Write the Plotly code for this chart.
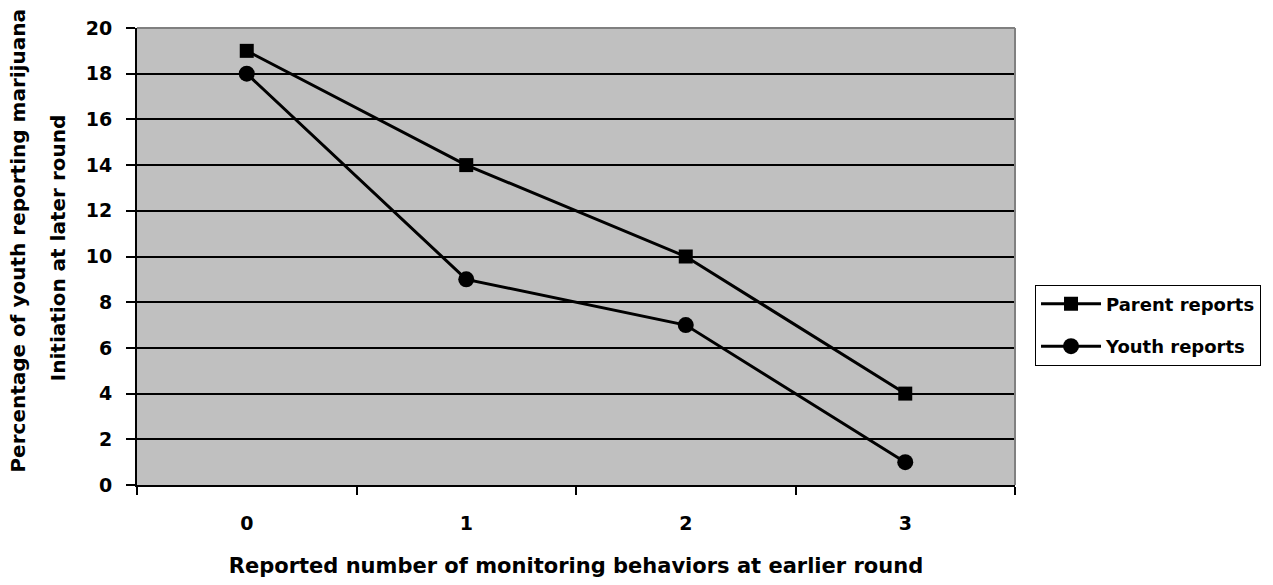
import plotly.graph_objects as go

# Monitoring behaviours (category labels) and initiation percentages
categories = ["0", "1", "2", "3"]
parent_reports = [19, 14, 10, 4]
youth_reports = [18, 9, 7, 1]
y_ticks = [0, 2, 4, 6, 8, 10, 12, 14, 16, 18, 20]

FONT = "Liberation Sans"
WIDE = "DejaVu Sans"

fig = go.Figure()
fig.add_trace(go.Scatter(
    x=categories, y=parent_reports, name="Parent reports", mode="lines+markers",
    legendgroup="parent",
    line=dict(color="black", width=3),
    marker=dict(symbol="square", size=14, color="black"),
))
fig.add_trace(go.Scatter(
    x=categories, y=youth_reports, name="Youth reports", mode="lines+markers",
    legendgroup="youth",
    line=dict(color="black", width=3),
    marker=dict(symbol="circle", size=16, color="black"),
))

fig.update_layout(
    width=1273, height=585,
    margin=dict(l=137, r=258, t=28, b=100),
    paper_bgcolor="white",
    plot_bgcolor="#C0C0C0",
    font=dict(family=FONT, color="black", size=17),
    showlegend=True,
    legend=dict(
        x=1.0228, y=0.35, xanchor="left", yanchor="middle",
        bgcolor="white", bordercolor="black", borderwidth=1,
        font=dict(family=WIDE, size=18, weight="bold"),
        traceorder="grouped", tracegroupgap=16, itemwidth=60,
    ),
    xaxis=dict(
        type="category", range=[-0.5, 3.5],
        tickson="boundaries", ticks="outside", ticklen=8, tickwidth=1.5, tickcolor="black",
        showline=True, linecolor="black", linewidth=2,
        showgrid=False, zeroline=False,
        tickfont=dict(family=WIDE, size=19, weight="bold"),
        ticklabelstandoff=20,
        title=dict(text="Reported number of monitoring behaviors at earlier round",
                   font=dict(family=WIDE, size=21, weight="bold"), standoff=26),
    ),
    yaxis=dict(
        range=[0, 20], tickvals=y_ticks,
        ticks="outside", ticklen=9, tickwidth=1.5, tickcolor="black",
        showline=True, linecolor="black", linewidth=2,
        showgrid=True, gridcolor="black", gridwidth=2,
        zeroline=False,
        tickfont=dict(family=WIDE, size=19, weight="bold"),
        ticklabelstandoff=10,
    ),
)

# Two-line vertical axis title
fig.add_annotation(
    text="Percentage of youth reporting marijuana", xref="paper", yref="paper",
    x=-0.136, y=0.534, xanchor="center", yanchor="middle", textangle=-90,
    showarrow=False, font=dict(family=WIDE, size=20, weight="bold"),
)
fig.add_annotation(
    text="Initiation at later round", xref="paper", yref="paper",
    x=-0.089, y=0.52, xanchor="center", yanchor="middle", textangle=-90,
    showarrow=False, font=dict(family=WIDE, size=20, weight="bold"),
)

# Gray frame on the top and right of the plot area
fig.add_shape(type="line", xref="paper", yref="paper", x0=0, x1=1, y0=1, y1=1,
              line=dict(color="#808080", width=2), layer="above")
fig.add_shape(type="line", xref="paper", yref="paper", x0=1, x1=1, y0=0, y1=1,
              line=dict(color="#808080", width=2), layer="above")

fig.write_html("out.html")
